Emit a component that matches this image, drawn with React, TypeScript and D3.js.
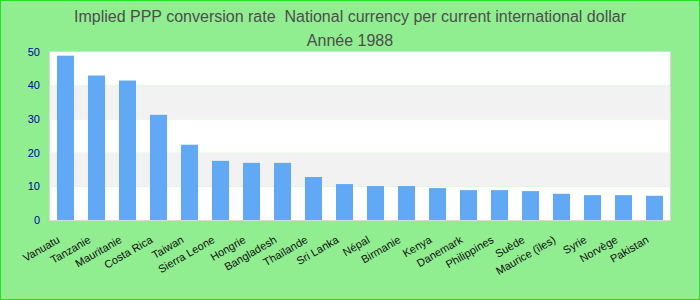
import React from "react";
import * as d3 from "d3";

const categories = [
  "Vanuatu", "Tanzanie", "Mauritanie", "Costa Rica", "Taiwan", "Sierra Leone",
  "Hongrie", "Bangladesh", "Thaïlande", "Sri Lanka", "Népal", "Birmanie",
  "Kenya", "Danemark", "Philippines", "Suède", "Maurice (îles)", "Syrie",
  "Norvège", "Pakistan",
];
const values = [
  48.9, 43.0, 41.5, 31.3, 22.4, 17.6, 17.0, 17.0, 12.8, 10.7, 10.1, 10.1,
  9.5, 8.9, 8.9, 8.6, 7.8, 7.4, 7.4, 7.2,
];
const yTicks = [0, 10, 20, 30, 40, 50];
const titleLines = [
  "Implied PPP conversion rate  National currency per current international dollar",
  "Année 1988",
];

export default function App() {
  const W = 700, H = 300;
  const left = 50, right = 670, top = 52, bottom = 220;
  const x = d3.scaleBand<string>().domain(categories).range([left, right]).paddingInner(0.45).paddingOuter(0.225);
  const y = d3.scaleLinear().domain([0, 50]).range([bottom, top]);
  const font = "Arial, 'Liberation Sans', sans-serif";
  const bands = yTicks.slice(0, -1).map((t, i) => ({ y0: t, y1: yTicks[i + 1], fill: i % 2 === 1 ? "#f2f2f2" : "#ffffff" }));
  return (
    <svg width={W} height={H} style={{ position: "absolute", left: 0, top: 0 }} fontFamily={font}>
      <rect x={0.5} y={0.5} width={W - 1} height={H - 1} fill="#90ee90" stroke="#22e022" strokeWidth={1} />
      {titleLines.map((t, i) => (
        <text key={i} x={350} y={22 + i * 24} textAnchor="middle" fontSize={16} fill="#4d4d4d" style={{ whiteSpace: "pre" }}>{t}</text>
      ))}
      {bands.map((b, i) => (
        <rect key={i} x={left} width={right - left} y={y(b.y1)} height={y(b.y0) - y(b.y1)} fill={b.fill} />
      ))}
      <rect x={left - 0.5} y={top - 0.5} width={right - left + 1} height={bottom - top + 1} fill="none" stroke="#d9d9d9" strokeWidth={1} />
      {categories.map((c, i) => (
        <rect key={c} x={x(c)} y={y(values[i])} width={x.bandwidth()} height={bottom - y(values[i])} fill="#61a9f5" />
      ))}
      {yTicks.map((t) => (
        <text key={t} x={40} y={y(t)} dy="0.35em" textAnchor="end" fontSize={11} fill="#0000a0">{t}</text>
      ))}
      {categories.map((c) => (
        <text key={c} transform={`translate(${(x(c) as number) + x.bandwidth() / 2 - 5},${242}) rotate(-30)`} textAnchor="end" fontSize={11} fill="#111">{c}</text>
      ))}
    </svg>
  );
}
